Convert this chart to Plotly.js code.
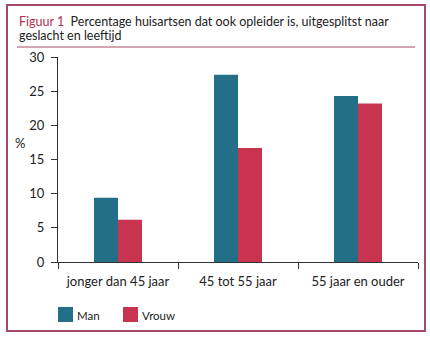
<!DOCTYPE html>
<html><head><meta charset="utf-8">
<script src="https://cdn.plot.ly/plotly-3.0.1.min.js"></script>
<style>html,body{margin:0;padding:0;background:#fff}#c{width:430px;height:337px}</style>
</head><body><div id="c"></div>
<script>
const categories = ["jonger dan 45 jaar", "45 tot 55 jaar", "55 jaar en ouder"];
const seriesNames = ["Man", "Vrouw"];
const manValues = [9.4, 27.4, 24.3];
const vrouwValues = [6.2, 16.7, 23.2];
const yTicks = [0, 5, 10, 15, 20, 25, 30];
const titleLines = ['<span style="color:#b3304f">Figuur 1</span>  Percentage huisartsen dat ook opleider is, uitgesplitst naar', 'geslacht en leeftijd'];
const colors = ["#236f88", "#c8344f"];
const frameColor = "#a64a63";

const W = 430, H = 337, M = {l: 58, r: 12, t: 57, b: 75};
const pw = W - M.l - M.r, ph = H - M.t - M.b;
const px = x => (x - M.l) / pw;
const py = y => (H - M.b - y) / ph;
const font = "Lato, 'Open Sans', sans-serif";

const traces = [manValues, vrouwValues].map((v, i) => ({
  type: "bar", x: categories, y: v, name: seriesNames[i],
  marker: {color: colors[i], line: {width: 0}}, showlegend: false, hoverinfo: "none"
}));

const shapes = [
  {type: "rect", xref: "paper", yref: "paper", x0: px(7), x1: px(425), y0: py(5), y1: py(331),
   line: {color: frameColor, width: 2}},
  {type: "line", xref: "paper", yref: "paper", x0: px(17), x1: px(415), y0: py(47), y1: py(47),
   line: {color: frameColor, width: 1}}
];
const annotations = [
  {xref: "paper", yref: "paper", x: px(20), y: py(143), text: "%", showarrow: false,
   xanchor: "center", yanchor: "middle", font: {family: font, size: 13, color: "#222"}}
];
titleLines.forEach((t, i) => annotations.push({
  xref: "paper", yref: "paper", x: px(17), y: py(21 + 15 * i), xanchor: "left", yanchor: "middle",
  align: "left", showarrow: false, text: t, font: {family: font, size: 12.5, color: "#222"}
}));
const legX = [58, 123];
seriesNames.forEach((n, i) => {
  shapes.push({type: "rect", xref: "paper", yref: "paper", x0: px(legX[i]), x1: px(legX[i] + 15),
    y0: py(307), y1: py(322), fillcolor: colors[i], line: {width: 0}});
  annotations.push({xref: "paper", yref: "paper", x: px(legX[i] + 17), y: py(315), text: n,
    showarrow: false, xanchor: "left", yanchor: "middle", font: {family: font, size: 11.5, color: "#222"}});
});

const layout = {
  width: W, height: H, margin: M, paper_bgcolor: "#fff", plot_bgcolor: "#fff",
  barmode: "group", bargap: 0.6, bargroupgap: 0,
  font: {family: font, size: 13, color: "#222"},
  xaxis: {showline: true, linecolor: "#333", linewidth: 1, ticks: "outside", ticklen: 6, tickcolor: "#333",
    tickson: "boundaries", showgrid: false, zeroline: false, tickfont: {size: 13}, ticklabelstandoff: 7, fixedrange: true},
  yaxis: {range: [0, 30], tickvals: yTicks, showline: true, linecolor: "#333", linewidth: 1, ticks: "outside",
    ticklen: 6, tickcolor: "#333", showgrid: false, zeroline: false, tickfont: {size: 13}, ticklabelstandoff: 4, fixedrange: true},
  shapes: shapes, annotations: annotations
};
Plotly.newPlot("c", traces, layout, {displayModeBar: false, staticPlot: true});
</script></body></html>
